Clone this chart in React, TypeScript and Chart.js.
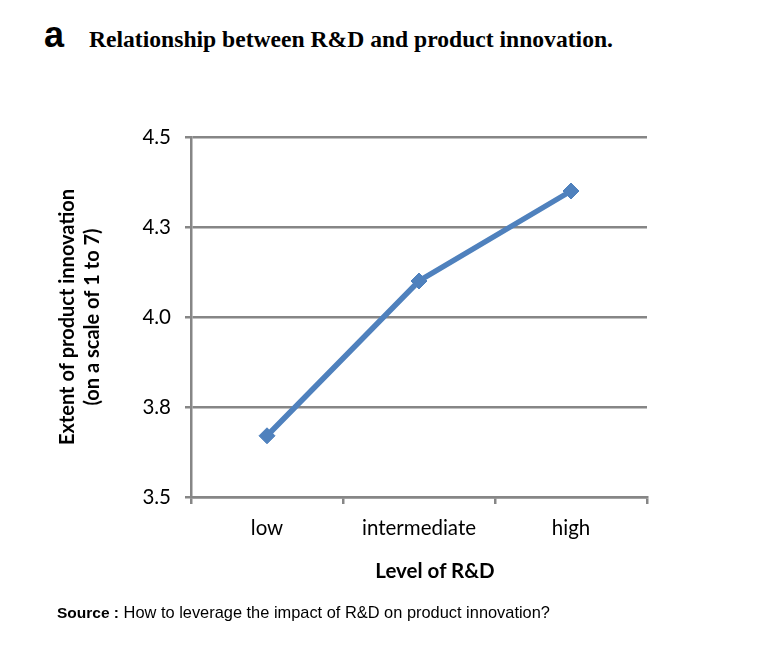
import { useEffect, useRef } from "react";
import { Chart, registerables } from "chart.js";

Chart.register(...registerables);

// values
const categories = ["low", "intermediate", "high"];
const innovation = [3.67, 4.1, 4.35];
const yTickLabels = ["3.5", "3.8", "4.0", "4.3", "4.5"];
const yTitle = ["Extent of product innovation", "(on a scale of 1 to 7)"];

const GRID = "#868686";
const LINE = "#4F81BD";

export default function App() {
  const chartRef = useRef<HTMLCanvasElement | null>(null);
  const chartInstance = useRef<Chart | null>(null);

  useEffect(() => {
    if (!chartRef.current) return;
    if (chartInstance.current) chartInstance.current.destroy();

    chartInstance.current = new Chart(chartRef.current, {
      type: "line",
      data: {
        labels: categories,
        datasets: [
          {
            data: innovation,
            borderColor: LINE,
            backgroundColor: LINE,
            borderWidth: 5.5,
            pointStyle: "rectRot",
            pointRadius: 8,
            pointBorderWidth: 1,
            tension: 0,
          },
        ],
      },
      options: {
        animation: false,
        responsive: false,
        layout: { padding: { left: 55, top: 137, right: 127, bottom: 101 } },
        plugins: {
          legend: { display: false },
          tooltip: { enabled: false },
        },
        scales: {
          x: {
            type: "category",
            offset: true,
            grid: {
              offset: true,
              drawOnChartArea: false,
              tickLength: 7,
              color: GRID,
              lineWidth: 2.5,
            },
            border: { color: GRID, width: 2.5 },
            ticks: {
              color: "#000",
              font: { family: "Lato", size: 20.5 },
              padding: 12,
              maxRotation: 0,
            },
            afterFit: (s) => {
              s.height = 50;
            },
          },
          y: {
            min: 3.5,
            max: 4.5,
            ticks: {
              stepSize: 0.25,
              color: "#000",
              font: { family: "Lato", size: 20.5 },
              padding: 14,
              callback: (v, i) => yTickLabels[i] ?? String(v),
            },
            grid: { color: GRID, lineWidth: 2.5, tickLength: 6 },
            border: { color: GRID, width: 2.5 },
            title: {
              display: true,
              text: yTitle,
              color: "#000",
              font: { family: "Lato", size: 20, weight: "bold", lineHeight: 1.25 },
              padding: 0,
            },
            afterFit: (s) => {
              s.width = 136;
            },
          },
        },
      },
    });

    return () => {
      if (chartInstance.current) {
        chartInstance.current.destroy();
        chartInstance.current = null;
      }
    };
  }, []);

  return (
    <div style={{ position: "absolute", left: 0, top: 0, width: 774, height: 648, background: "#fff" }}>
      <div
        style={{
          position: "absolute",
          left: 44,
          top: 17,
          font: "bold 36px 'Liberation Sans', Arial, sans-serif",
          lineHeight: 1,
        }}
      >
        a
      </div>
      <div
        style={{
          position: "absolute",
          left: 89,
          top: 28,
          font: "bold 23.6px 'Liberation Serif', 'Times New Roman', serif",
          lineHeight: 1,
          whiteSpace: "nowrap",
        }}
      >
        Relationship between R&amp;D and product innovation.
      </div>
      <canvas ref={chartRef} width={774} height={648} style={{ position: "absolute", left: 0, top: 0 }} />
      <div
        style={{
          position: "absolute",
          left: 435,
          top: 560,
          transform: "translateX(-50%)",
          font: "bold 20.5px Lato, sans-serif",
          lineHeight: 1,
          whiteSpace: "nowrap",
        }}
      >
        Level of R&amp;D
      </div>
      <div
        style={{
          position: "absolute",
          left: 57,
          top: 604,
          font: "16.4px 'Liberation Sans', Arial, sans-serif",
          lineHeight: 1,
          whiteSpace: "nowrap",
        }}
      >
        <b style={{ fontSize: 15.5 }}>Source :</b> How to leverage the impact of R&amp;D on product innovation?
      </div>
    </div>
  );
}
